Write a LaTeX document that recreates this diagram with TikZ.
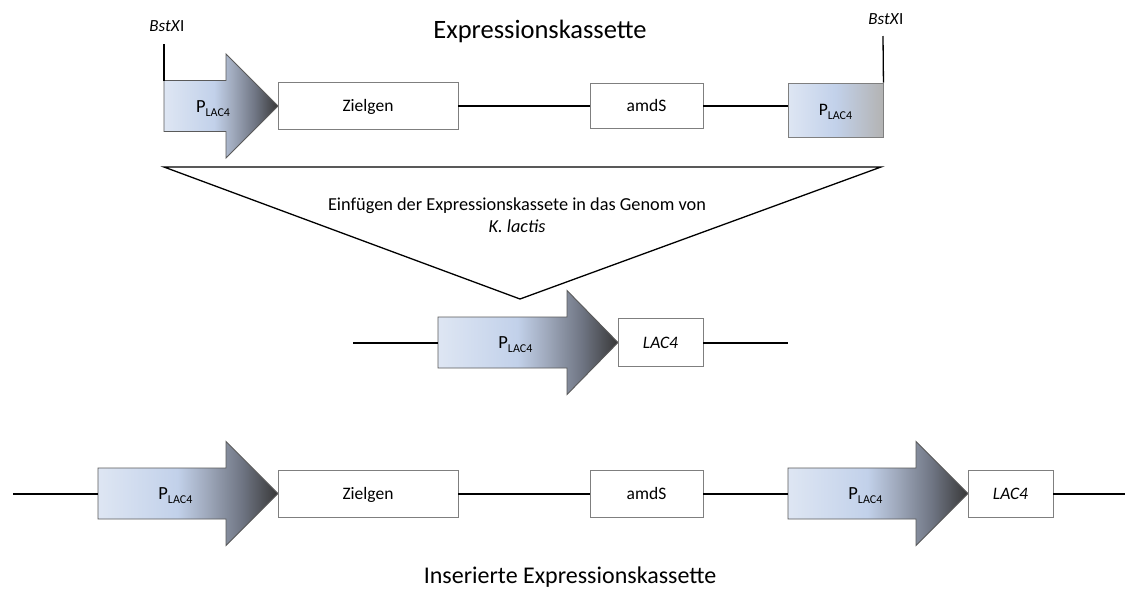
\documentclass[tikz,border=0pt]{standalone}
\usepackage{fontspec}
\setmainfont{Carlito}
\definecolor{pa1}{HTML}{DEE6F3}
\definecolor{pa2}{HTML}{C2D1EA}
\definecolor{pa3}{HTML}{A0AABD}
\definecolor{pa4}{HTML}{6F7583}
\definecolor{pa5}{HTML}{383838}
\definecolor{pb3}{HTML}{B3B3B3}
\definecolor{boxgray}{HTML}{7F7F7F}
\definecolor{arrgray}{HTML}{5A5A5A}
\pgfdeclarehorizontalshading{parrowshade}{100bp}{color(0bp)=(pa1); color(25bp)=(pa1); color(47bp)=(pa2); color(55bp)=(pa3); color(65bp)=(pa4); color(75bp)=(pa5); color(100bp)=(pa5)}
\pgfdeclarehorizontalshading{pboxshade}{100bp}{color(0bp)=(pa1); color(25bp)=(pa1); color(50bp)=(pa2); color(75bp)=(pb3); color(100bp)=(pb3)}
\newcommand{\lacsub}{\raisebox{-4pt}{\fontsize{12}{12}\selectfont LAC4}}
\tikzset{
  dna/.style={line width=2pt, black},
  thinline/.style={line width=1.3pt, black},
  genebox/.style={draw=boxgray, line width=0.9pt, fill=white, inner sep=0pt,
    text height=11.5pt, text depth=0pt, font=\fontsize{17.5}{20}\selectfont},
  plabel/.style={inner sep=0pt, text height=12pt, text depth=0pt, font=\fontsize{18.5}{20}\selectfont},
  bigtitle/.style={inner sep=0pt, anchor=base},
  sitelabel/.style={inner sep=0pt, font=\fontsize{17}{20}\selectfont},
  pics/parrow/.style 2 args={code={
    \shadedraw[shading=parrowshade, draw=arrgray, line width=0.9pt]
      (0,-25.5) -- (#1,-25.5) -- (#1,-52) -- ({#1+#2},0) -- (#1,52) -- (#1,25.5) -- (0,25.5) -- cycle;
    \coordinate (-tail) at (0,0);
    \coordinate (-top) at (0,-25.5);
    \coordinate (-tip) at ({#1+#2},0);
    \node[plabel] (-label) at ({0.43*(#1+#2)},0) {P\lacsub};
  }}
}
\begin{document}
\begin{tikzpicture}[x=1pt,y=-1pt]
\useasboundingbox (0,0) rectangle (1135,592);
\fill[white] (0,0) rectangle (1135,592);

% ---------- top: expression cassette ----------
\node[bigtitle, font=\fontsize{26.5}{30}\selectfont] (title) at (540,38) {Expressionskassette};
\pic (a1) at (164,106) {parrow={62}{52}};
\node[genebox, minimum width=180pt, minimum height=47pt] (zielT) at (368,105.5) {Zielgen};
\node[genebox, minimum width=113pt, minimum height=45pt] (amdsT) at (646.5,105.5) {amdS};
\node[genebox, shading=pboxshade, minimum width=95pt, minimum height=54pt] (pboxT) at (835.5,110) {P\lacsub};
\draw[dna] (zielT.east) -- (amdsT.west);
\draw[dna] (amdsT.east) -- (amdsT.east -| pboxT.west);

\node[sitelabel] (bstLlab) at (167,26) {\textit{BstX}I};
\node[sitelabel] (bstRlab) at (886,19) {\textit{BstX}I};
\coordinate (bstL) at (164,44);
\coordinate (bstR) at (883,36);
\draw[thinline] (bstL) -- (a1-top);
\draw[thinline] (bstR) -- (pboxT.north east);

% ---------- insertion triangle ----------
\coordinate (triL) at (164,167);
\coordinate (triR) at (881,167);
\coordinate (triA) at (520,299);
\draw[thinline, line join=miter] (triL) -- (triR) -- (triA) -- cycle;
\node[inner sep=0pt, align=center, anchor=base, font=\fontsize{18.3}{21.5}\selectfont] (ins) at (517,232)
  {Einfügen der Expressionskassete in das Genom von\\\textit{K. lactis}};

% ---------- middle: genomic LAC4 locus ----------
\coordinate (mL) at (353,342.5);
\coordinate (mR) at (788,342.5);
\pic (a3) at (438,342.5) {parrow={129}{51}};
\node[genebox, minimum width=85pt, minimum height=48pt] (lacM) at (660.5,342.5) {\textit{LAC4}};
\draw[dna] (mL) -- (a3-tail);
\draw[dna] (lacM.east) -- (mR);

% ---------- bottom: inserted cassette ----------
\coordinate (bL) at (13,493.5);
\coordinate (bR) at (1125,493.5);
\pic (a4) at (98,493.5) {parrow={128}{52}};
\node[genebox, minimum width=180pt, minimum height=47pt] (zielB) at (368,493.5) {Zielgen};
\node[genebox, minimum width=113pt, minimum height=47pt] (amdsB) at (646.5,493.5) {amdS};
\pic (a5) at (788,493.5) {parrow={128}{52}};
\node[genebox, minimum width=85pt, minimum height=47pt] (lacB) at (1010.5,493.5) {\textit{LAC4}};
\draw[dna] (bL) -- (a4-tail);
\draw[dna] (zielB.east) -- (amdsB.west);
\draw[dna] (amdsB.east) -- (a5-tail);
\draw[dna] (lacB.east) -- (bR);

\node[bigtitle, font=\fontsize{24}{28}\selectfont] (title2) at (570,583) {Inserierte Expressionskassette};
\end{tikzpicture}
\end{document}
